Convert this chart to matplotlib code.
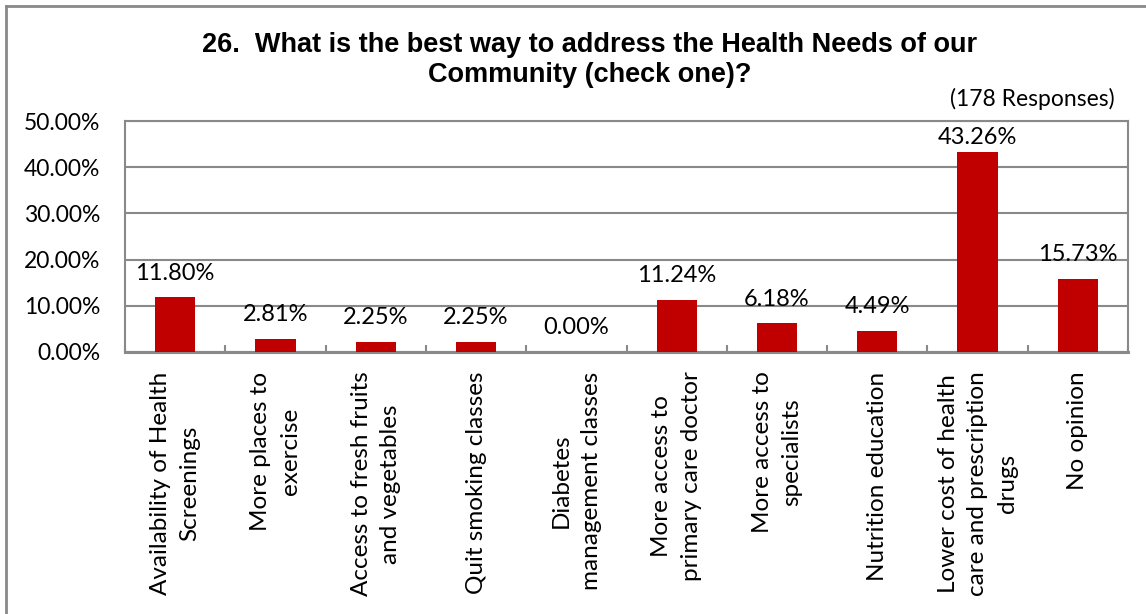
import numpy as np
import matplotlib.pyplot as plt
from matplotlib.lines import Line2D
from matplotlib.ticker import FuncFormatter

categories = [
    "Availability of Health\nScreenings",
    "More places to\nexercise",
    "Access to fresh fruits\nand vegetables",
    "Quit smoking classes",
    "Diabetes\nmanagement classes",
    "More access to\nprimary care doctor",
    "More access to\nspecialists",
    "Nutrition education",
    "Lower cost of health\ncare and prescription\ndrugs",
    "No opinion",
]
percent = [11.80, 2.81, 2.25, 2.25, 0.00, 11.24, 6.18, 4.49, 43.26, 15.73]
yticks = [0, 10, 20, 30, 40, 50]

gris = "#898989"
rojo = "#C00000"
fuente = "Lato"

fig = plt.figure(figsize=(11.46, 6.14), dpi=100)
ax = fig.add_axes([125/1146, 1 - 352/614, (1128 - 125)/1146, (352 - 121)/614])

x = np.arange(len(categories))
ax.bar(x, percent, width=0.4, color=rojo, zorder=3)

# etiquetas de valor; no pasan del borde superior del area
for xi, v in zip(x, percent):
    ax.text(xi, min(v + 3.0, 44.1), f"{v:.2f}%", ha="center", va="bottom",
            fontsize=17, family=fuente, color="black")

ax.set_xlim(-0.5, len(categories) - 0.5)
ax.set_ylim(0, 50)
ax.set_yticks(yticks)
ax.yaxis.set_major_formatter(FuncFormatter(lambda v, p: f"{v:.2f}%"))
ax.yaxis.grid(True, color=gris, lw=1.5, zorder=0)
ax.tick_params(axis="y", length=0, pad=18, labelsize=16.5)
for lab in ax.get_yticklabels():
    lab.set_family(fuente)

# marcas entre categorias, hacia dentro
ax.set_xticks(np.arange(len(categories) + 1) - 0.5, minor=True)
ax.set_xticks(x)
ax.set_xticklabels(categories, rotation=90, ha="center", va="top",
                   multialignment="center", family=fuente, fontsize=17.5,
                   linespacing=1.5)
ax.tick_params(axis="x", which="major", length=0, pad=14)
ax.tick_params(axis="x", which="minor", direction="in", length=5,
               width=1.5, color=gris)

for s in ax.spines.values():
    s.set_color(gris)
    s.set_linewidth(1.5)
ax.spines["bottom"].set_linewidth(2.2)

fig.text(590/1146, 1 - 60/614,
         "26.  What is the best way to address the Health Needs of our\nCommunity (check one)?",
         ha="center", va="center", fontsize=19.5, fontweight="bold",
         family="Liberation Sans", linespacing=1.2)
fig.text(1115/1146, 1 - 99/614, "(178 Responses)", ha="right", va="center",
         fontsize=16.5, family=fuente)

# marco exterior del grafico
fig.add_artist(Line2D([6/1146, 6/1146], [0, 1 - 6/614], transform=fig.transFigure,
                      color=gris, lw=2))
fig.add_artist(Line2D([6/1146, 1], [1 - 6/614, 1 - 6/614], transform=fig.transFigure,
                      color=gris, lw=2))

fig.savefig("out.png", dpi=100, facecolor="white")
